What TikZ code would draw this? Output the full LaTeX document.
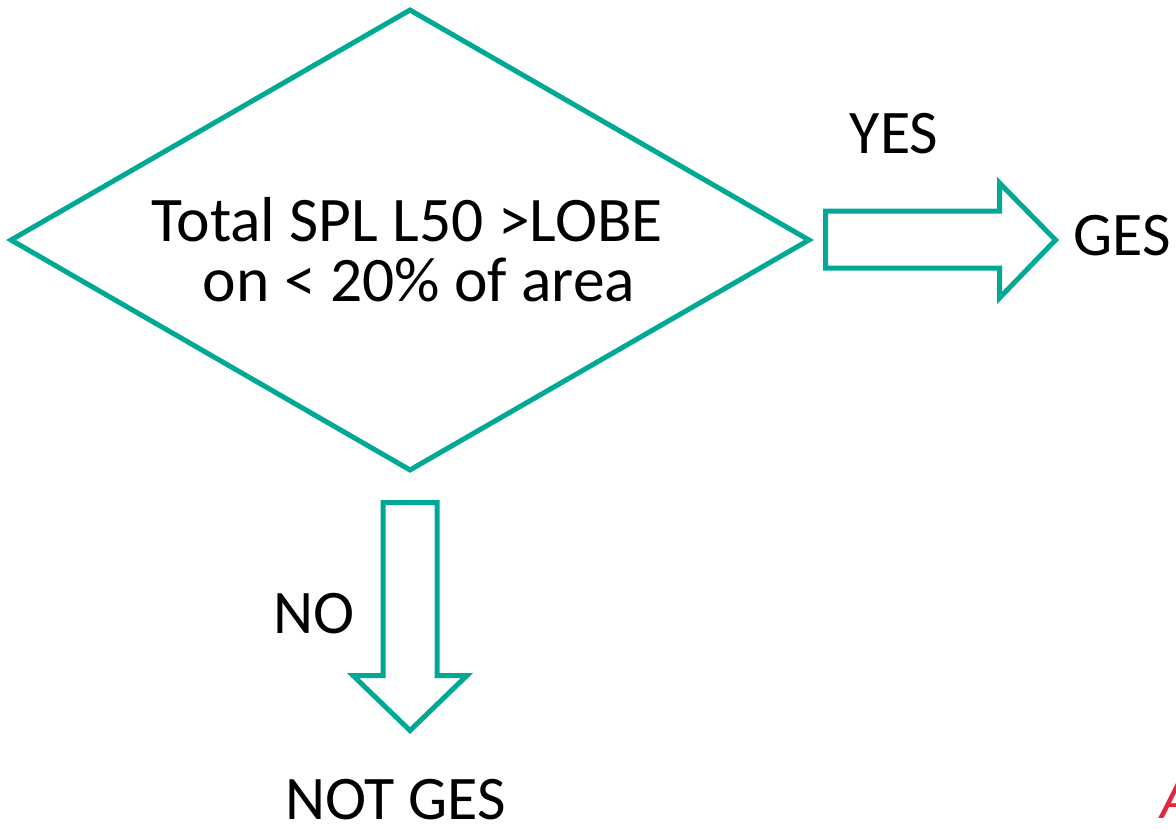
\documentclass[tikz,border=0pt]{standalone}
\usepackage{fontspec}
\setmainfont{Carlito}
\usetikzlibrary{shapes.geometric, positioning, calc}
\definecolor{flowteal}{RGB}{0,168,150}
\definecolor{markred}{RGB}{224,40,60}

\begin{document}
\begin{tikzpicture}[x=1pt, y=-1pt,
  decision/.style={diamond, draw=flowteal, line width=5pt, minimum width=800pt, minimum height=462pt, inner sep=0pt},
  blockarrow/.style={draw=flowteal, line width=5pt},
  lbl/.style={font=\fontsize{62}{60}\selectfont, inner sep=0pt}]
  \useasboundingbox (0,0) rectangle (1176,828);

  \node[decision] (test) at (410,240) {};
  \node[lbl, align=center, font=\fontsize{63.5}{60}\selectfont] (cond) at ([shift={(-3,10)}]test.center)
    {Total SPL L50 >LOBE\\ \hspace*{24pt}on < 20\% of area};

  \node[lbl, anchor=base] (yes) at (894,153) {YES};
  \node[lbl, anchor=base west] (ges) at (1073,255) {GES};
  \node[lbl, anchor=base west] (no) at (273,633) {NO};
  \node[lbl, anchor=base west] (notges) at (285,819) {NOT GES};
  \node[lbl, anchor=base west, text=markred, font=\fontsize{62}{60}\selectfont\itshape] (mark) at (1160,818) {A};

  % yes / no arrows
  \draw[blockarrow] ([shift={(13,-29)}]test.east) -- ++(174,0) -- ++(0,-28) -- ++(56,57)
    -- ++(-56,58) -- ++(0,-30) -- ++(-174,0) -- cycle;
  \draw[blockarrow] ([shift={(-27,29)}]test.south) -- ++(0,173) -- ++(-30,0) -- ++(57,55)
    -- ++(57,-55) -- ++(-30,0) -- ++(0,-173) -- cycle;
\end{tikzpicture}
\end{document}
